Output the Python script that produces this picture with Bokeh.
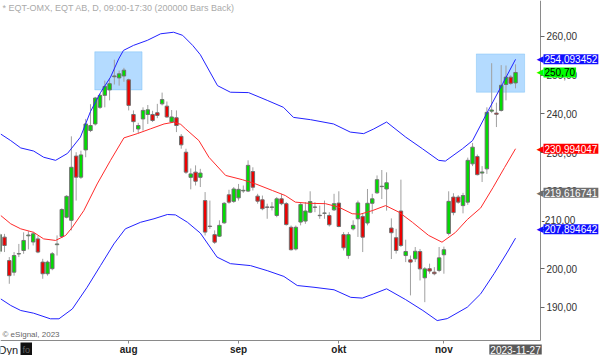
from bokeh.plotting import figure
from bokeh.models import Range1d, LinearAxis, FixedTicker, Label, BoxAnnotation, ColumnDataSource
from bokeh.embed import file_html
from bokeh.resources import INLINE

# ---- daily OHLC (bar index 0..108) ----
opens = [204.5, 208.15, 202.1, 199.1, 203.8, 204.7, 208.5, 206.9, 207.7, 201.7,
         198.7, 200.0, 206.2, 208.3, 213.3, 212.5, 229.1, 223.65, 230.7, 235.7,
         237.4, 241.7, 244.8, 246.2, 249.6, 249.3, 249.8, 248.8, 239.85, 236.1,
         238.7, 239.85, 239.85, 240.3, 242.6, 242.0, 237.9, 239.0, 234.2, 230.1,
         223.6, 224.95, 223.6, 217.6, 211.0, 208.8, 208.4, 211.85, 219.1, 217.4,
         218.3, 220.1, 220.05, 225.1, 218.75, 217.8, 215.95, 215.85, 213.75, 218.05,
         216.8, 210.7, 205.1, 212.05, 212.3, 214.6, 215.95, 213.8, 214.3, 213.75,
         215.2, 216.95, 208.8, 203.4, 210.3, 212.9, 213.5, 211.8, 216.9, 219.6,
         221.2, 220.6, 210.5, 208.0, 214.9, 203.4, 202.3, 202.55, 204.45, 197.65,
         200.0, 199.1, 199.55, 203.6, 209.1, 218.5, 218.5, 216.3, 217.2, 227.1,
         229.0, 224.7, 225.8, 240.7, 240.2, 240.9, 247.6, 249.5, 248.0]
highs = [209.2, 209.0, 203.0, 204.3, 206.4, 209.4, 209.7, 209.5, 208.5, 202.55,
         202.1, 204.3, 208.6, 215.6, 219.0, 234.2, 230.1, 230.5, 238.7, 242.5,
         244.4, 245.2, 248.6, 249.1, 254.0, 251.2, 251.9, 249.1, 240.9, 237.7,
         241.7, 242.3, 240.8, 242.6, 245.5, 243.2, 241.0, 240.9, 234.8, 231.0,
         225.9, 226.7, 225.8, 219.8, 217.6, 209.9, 212.5, 217.2, 220.4, 221.1,
         221.9, 221.5, 228.0, 226.2, 219.35, 218.9, 216.8, 217.2, 218.5, 219.35,
         217.2, 211.15, 211.15, 216.95, 217.2, 220.0, 217.2, 216.3, 217.6, 214.6,
         219.35, 220.0, 209.45, 209.45, 212.5, 217.6, 214.2, 220.6, 219.35, 224.1,
         225.5, 224.9, 213.0, 210.3, 223.0, 207.5, 203.4, 205.6, 205.1, 200.4,
         201.3, 200.4, 205.6, 205.7, 220.0, 219.5, 219.0, 219.6, 228.7, 232.5,
         229.5, 226.5, 241.7, 253.1, 242.9, 252.6, 252.5, 250.0, 252.8]
lows = [203.8, 204.3, 196.1, 198.2, 203.0, 203.85, 205.0, 206.0, 204.0, 197.4,
        198.2, 199.6, 203.4, 207.9, 213.0, 209.9, 217.6, 223.2, 228.8, 235.3,
        237.0, 241.3, 241.7, 243.5, 247.6, 247.3, 248.3, 240.9, 235.3, 235.0,
        235.7, 237.4, 237.9, 238.9, 242.2, 239.0, 237.7, 235.3, 231.0, 224.5,
        220.5, 221.5, 221.1, 208.6, 210.3, 206.4, 208.2, 211.6, 216.8, 217.0,
        217.6, 219.6, 219.8, 220.2, 216.8, 215.1, 212.9, 215.05, 213.3, 216.4,
        211.15, 204.7, 204.7, 211.2, 211.6, 214.35, 214.6, 212.9, 212.9, 210.9,
        214.9, 210.7, 204.7, 202.55, 209.9, 208.2, 204.3, 211.2, 214.2, 219.35,
        218.0, 215.0, 202.5, 203.9, 205.6, 201.7, 193.1, 201.7, 196.95, 191.35,
        198.7, 198.3, 199.1, 198.7, 208.6, 213.8, 216.8, 214.3, 216.5, 226.5,
        224.1, 222.4, 224.5, 240.2, 236.6, 240.6, 243.5, 247.5, 246.6]
closes = [208.8, 206.0, 198.2, 203.4, 203.9, 207.3, 208.7, 209.0, 204.3, 198.7,
          201.7, 203.85, 206.4, 215.3, 218.7, 226.2, 223.65, 229.4, 237.4, 237.0,
          244.1, 244.8, 247.1, 247.8, 249.8, 250.35, 251.3, 242.2, 238.0, 237.0,
          240.9, 241.05, 238.3, 239.6, 243.7, 239.2, 239.2, 237.0, 232.0, 224.95,
          224.5, 222.6, 224.7, 209.45, 210.9, 206.85, 211.2, 216.9, 217.2, 220.6,
          220.5, 220.25, 226.7, 221.05, 217.45, 215.5, 215.85, 215.95, 218.05, 216.8,
          211.4, 204.9, 210.7, 216.6, 214.9, 217.35, 215.85, 213.7, 214.4, 211.35,
          216.8, 210.9, 205.4, 208.8, 211.2, 217.0, 208.15, 216.9, 218.05, 223.0,
          221.3, 222.2, 209.3, 204.7, 206.0, 204.45, 201.7, 204.5, 199.95, 199.95,
          199.4, 198.7, 202.8, 204.9, 217.4, 214.5, 217.2, 218.9, 228.0, 231.4,
          224.3, 225.0, 240.4, 241.0, 239.9, 247.4, 249.5, 247.9, 250.7]

# ---- band readings (bar position, value) ----
upper_x = [0.2, 2.3, 4.4, 7.1, 9.2, 11.7, 14.2, 16.9, 19.0, 21.1, 23.2, 24.9, 25.9, 28.0,
           30.9, 33.7, 36.4, 38.3, 40.4, 42.0, 45.6, 48.3, 52.1, 56.0, 59.4, 61.5, 65.1,
           69.9, 73.4, 76.2, 78.3, 81.0, 85.0, 88.5, 91.9, 93.3, 96.9, 99.0, 102.3, 105.3, 108.0]
upper_v = [234.8, 233.1, 231.2, 230.4, 228.8, 228.0, 229.8, 234.0, 240.6, 245.5, 249.5, 254.2,
           256.4, 257.7, 259.0, 260.7, 261.1, 260.3, 257.7, 255.3, 247.3, 245.6, 245.5, 243.5,
           241.7, 239.1, 238.5, 237.4, 235.3, 234.9, 236.1, 237.9, 234.0, 231.0, 228.0, 227.8,
           231.0, 233.1, 240.9, 247.8, 254.093452]
mid_x = [0.2, 2.3, 4.4, 7.1, 9.2, 11.7, 13.8, 15.2, 17.6, 20.4, 23.2, 26.0, 28.8, 31.6, 34.4,
         36.4, 37.9, 38.9, 41.7, 43.8, 47.3, 50.8, 53.6, 57.1, 59.8, 61.9, 64.7, 68.2, 71.0,
         73.8, 75.5, 78.0, 80.8, 83.6, 86.4, 89.8, 92.6, 95.4, 97.9, 100.7, 103.3, 105.7, 108.0]
mid_v = [213.75, 211.6, 210.3, 209.4, 207.7, 207.3, 208.6, 210.7, 215.0, 221.9, 228.0, 233.8,
         234.9, 236.15, 237.4, 237.85, 237.3, 236.15, 233.1, 228.8, 224.1, 223.0, 221.9, 220.2,
         218.9, 217.2, 216.9, 216.8, 215.9, 214.2, 214.1, 215.0, 216.3, 214.6, 212.0, 208.6,
         206.85, 209.35, 212.7, 215.7, 221.0, 226.15, 230.994047]
low_x = [0.2, 2.3, 4.4, 7.1, 10.6, 12.4, 15.2, 18.3, 21.1, 23.9, 26.3, 29.5, 32.3, 35.1, 36.8,
         39.3, 42.0, 45.5, 48.3, 52.5, 56.0, 59.5, 62.3, 65.8, 70.0, 73.5, 75.9, 78.3, 81.0,
         85.0, 88.6, 91.6, 93.7, 97.9, 100.7, 103.5, 106.3, 108.0]
low_v = [192.2, 190.5, 189.2, 188.5, 187.05, 187.05, 189.6, 195.2, 200.8, 206.4, 210.3, 212.0,
         212.9, 214.0, 213.9, 212.0, 209.2, 203.0, 201.3, 200.8, 199.5, 198.0, 195.65, 195.2,
         194.55, 192.6, 192.4, 193.5, 194.8, 192.0, 189.2, 186.6, 187.1, 190.05, 193.5, 198.7,
         204.3, 207.894642]

# ---- axes ----
month_idx = [27, 50, 71, 93]
month_labels = ["aug", "sep", "okt", "nov"]
price_ticks = [190, 200, 210, 220, 230, 240, 250, 260]
moved_tick = 210          # label pushed up by the chart to clear the lower-band tag
last_date = "2023-11-27"

# ---- last-value tags ----
tag_values = [254.093452, 250.70, 230.994047, 219.616741, 207.894642]
tag_texts = ["254,093452", "250,70", "230,994047", "219,616741", "207,894642"]
tag_bg = ["#1010ff", "#00ff00", "#ff0000", "#6e6e6e", "#1010ff"]
tag_fg = ["white", "black", "white", "white", "white"]
tag_shift = [0, 0, 0, 0, 9]

# ---- highlight zones (bar from, bar to, low, high) ----
zone_left = [19.9, 99.8]
zone_right = [29.8, 109.9]
zone_bottom = [246.2, 245.6]
zone_top = [256.05, 255.5]

# visible chart window (bars, price) and the extra room for the axes
bar_lo, bar_hi, bar_pad = 0.16, 113.23, 12.56
px_lo, px_hi, px_pad = 181.45, 269.3, 3.88

FONT = "Liberation Sans"
n = len(opens)
xs = list(range(n))
body_top = [max(o, c) for o, c in zip(opens, closes)]
body_bot = [min(o, c) for o, c in zip(opens, closes)]
cols = ["#00dd00" if c >= o else "#ee0000" for o, c in zip(opens, closes)]
src = ColumnDataSource(dict(x=xs, h=highs, l=lows, t=body_top, b=body_bot, c=cols))

p = figure(width=600, height=355, output_backend="svg", toolbar_location=None,
           x_range=Range1d(bar_lo, bar_hi + bar_pad), y_range=Range1d(px_lo - px_pad, px_hi),
           x_axis_type=None, y_axis_type=None,
           min_border_left=0, min_border_right=0, min_border_top=0, min_border_bottom=0,
           background_fill_color="white", border_fill_color="white", outline_line_color=None)

for l, r, b, t in zip(zone_left, zone_right, zone_bottom, zone_top):
    p.add_layout(BoxAnnotation(left=l, right=r, bottom=b, top=t, fill_color="#b4dbff",
                               fill_alpha=1.0, line_color="#4aa8f0", line_width=1,
                               level="underlay"))

p.segment(x0="x", y0="l", x1="x", y1="h", source=src, line_color="#a0a0a0", line_width=1)
p.vbar(x="x", width=0.72, top="t", bottom="b", source=src, fill_color="c",
       line_color="#707070", line_width=1)

p.line(upper_x, upper_v, line_color="#2222ff", line_width=1)
p.line(mid_x, mid_v, line_color="#ff2a2a", line_width=1)
p.line(low_x, low_v, line_color="#2222ff", line_width=1)

overrides = {t: f"{t},00" for t in price_ticks}
overrides[moved_tick] = ""
yaxis = LinearAxis(ticker=FixedTicker(ticks=price_ticks), fixed_location=bar_hi,
                   bounds=(px_lo, px_hi), major_label_overrides=overrides,
                   axis_line_color="#8a8a8a", major_tick_line_color="#666666",
                   major_tick_out=4, major_tick_in=0, minor_tick_out=0, minor_tick_in=0,
                   major_label_standoff=2, major_label_text_font=FONT,
                   major_label_text_font_size="10px", major_label_text_color="#333333")
p.add_layout(yaxis, "right")

xaxis = LinearAxis(ticker=FixedTicker(ticks=month_idx), fixed_location=px_lo,
                   bounds=(bar_lo, bar_hi),
                   major_label_overrides=dict(zip(month_idx, month_labels)),
                   axis_line_color="#8a8a8a", major_tick_line_color="#8a8a8a",
                   major_tick_out=3, major_tick_in=0, minor_tick_out=0, minor_tick_in=0,
                   major_label_standoff=1, major_label_text_font=FONT,
                   major_label_text_font_size="10px", major_label_text_font_style="bold",
                   major_label_text_color="#222222")
p.add_layout(xaxis, "below")

# shifted tick label (drawn before the tags so the tag overlaps it like in the chart)
p.add_layout(Label(x=541, x_units="screen", y=moved_tick, y_units="data", y_offset=10,
                   text=f"-{moved_tick},00", text_color="#333333", text_font=FONT,
                   text_font_size="10px", text_baseline="middle", text_align="left"))

for v, t, bg, fg, sh in zip(tag_values, tag_texts, tag_bg, tag_fg, tag_shift):
    p.add_layout(Label(x=536, x_units="screen", y=v, y_units="data", y_offset=sh,
                       text="\u25c0", text_color=bg, text_font="DejaVu Sans",
                       text_font_size="9px", text_baseline="middle", text_align="left"))
    p.add_layout(Label(x=543, x_units="screen", y=v, y_units="data", y_offset=sh,
                       text=t, text_color=fg, text_font=FONT, text_font_size="10px",
                       text_baseline="middle", text_align="left",
                       background_fill_color=bg, padding=1))

p.add_layout(Label(x=2, x_units="screen", y=348, y_units="screen",
                   text="* EQT-OMX, EQT AB, D, 09:00-17:30 (200000 Bars Back)",
                   text_color="#aaaaaa", text_font=FONT, text_font_size="9px",
                   text_baseline="middle"))
p.add_layout(Label(x=2, x_units="screen", y=21, y_units="screen", text="\u00a9 eSignal, 2023",
                   text_color="#666666", text_font=FONT, text_font_size="8px",
                   text_baseline="middle"))
p.add_layout(Label(x=n - 1, x_units="data", y=6, y_units="screen", text=last_date,
                   text_color="white", text_font=FONT, text_font_size="10px",
                   text_baseline="middle", text_align="center",
                   background_fill_color="#5a5a5a", padding=1))
p.add_layout(Label(x=-2, x_units="screen", y=6, y_units="screen", text="Dyn",
                   text_color="#222222", text_font=FONT, text_font_size="11px",
                   text_baseline="middle"))
p.add_layout(Label(x=20, x_units="screen", y=6, y_units="screen", text="fo",
                   text_color="#666666", text_font=FONT, text_font_size="9px",
                   text_baseline="middle", background_fill_color="#111111", padding=2))

open("out.html", "w").write(file_html(p, INLINE))
